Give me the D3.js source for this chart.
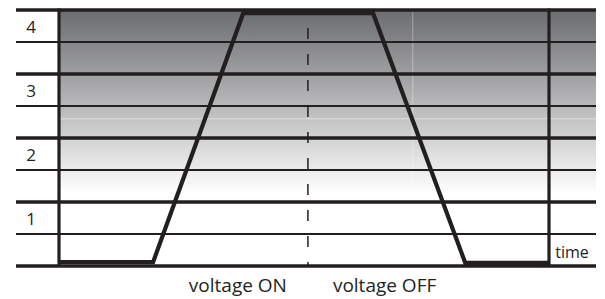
<!DOCTYPE html>
<html>
<head>
<meta charset="utf-8">
<script src="https://cdn.jsdelivr.net/npm/d3@7"></script>
<style>
  body { margin: 0; background: #fff; }
  text { fill: #231f20; }
</style>
</head>
<body>
<script>
// Chart values
var levelTicks = [1, 2, 3, 4];
var levelLabels = ["1", "2", "3", "4"];
var halfLevels = [0.5, 1.5, 2.5, 3.5];
var timePoints = [0, 1.92, 3.76, 6.41, 8.29, 10];
var levelValues = [0.06, 0.06, 3.95, 3.95, 0.05, 0.05];
var switchTime = [5.08];
var switchLabels = ["voltage ON", "voltage OFF"];
var axisLabel = "time";

var width = 605, height = 299;
var ink = "#231f20";

var svg = d3.select("body").append("svg")
  .attr("width", width)
  .attr("height", height);

// scales: time runs between the two vertical bars, level 0..4 between bottom and top rule
var x = d3.scaleLinear().domain([0, 10]).range([59, 549]);
var y = d3.scaleLinear().domain([0, 4]).range([266, 10]);
var lineLeft = 16, lineRight = 596;

// gradient background
var grad = svg.append("defs").append("linearGradient")
  .attr("id", "bg")
  .attr("x1", 0).attr("y1", 0).attr("x2", 0).attr("y2", 1);
grad.append("stop").attr("offset", 0).attr("stop-color", "#6b6c6f");
grad.append("stop").attr("offset", 0.72).attr("stop-color", "#ffffff");

svg.append("rect")
  .attr("x", x(0))
  .attr("y", y(4))
  .attr("width", lineRight - x(0))
  .attr("height", y(0) - y(4))
  .attr("fill", "url(#bg)");

// faint light seams in the shading
svg.append("line")
  .attr("x1", x(0)).attr("x2", lineRight)
  .attr("y1", y(2.3)).attr("y2", y(2.3))
  .attr("stroke", "#fff").attr("stroke-opacity", 0.45).attr("stroke-width", 1);
svg.append("line")
  .attr("x1", x(7.22)).attr("x2", x(7.22))
  .attr("y1", y(4)).attr("y2", y(0))
  .attr("stroke", "#fff").attr("stroke-opacity", 0.35).attr("stroke-width", 1);

// thin half-level rules
svg.selectAll("line.half")
  .data(halfLevels)
  .enter().append("line")
  .attr("class", "half")
  .attr("x1", lineLeft).attr("x2", lineRight)
  .attr("y1", function(d) { return y(d); })
  .attr("y2", function(d) { return y(d); })
  .attr("stroke", ink).attr("stroke-width", 1.8);

// thick level rules (0 included as the base line)
svg.selectAll("line.level")
  .data([0].concat(levelTicks))
  .enter().append("line")
  .attr("class", "level")
  .attr("x1", lineLeft).attr("x2", lineRight)
  .attr("y1", function(d) { return y(d); })
  .attr("y2", function(d) { return y(d); })
  .attr("stroke", ink).attr("stroke-width", 3.6);

// vertical bars
svg.selectAll("line.bar")
  .data([0, 10])
  .enter().append("line")
  .attr("class", "bar")
  .attr("x1", function(d) { return x(d); })
  .attr("x2", function(d) { return x(d); })
  .attr("y1", y(4) - 1.5).attr("y2", y(0))
  .attr("stroke", ink).attr("stroke-width", 3.2);

// dashed switch line
svg.append("line")
  .attr("x1", x(switchTime[0])).attr("x2", x(switchTime[0]))
  .attr("y1", 28).attr("y2", y(0))
  .attr("stroke", ink).attr("stroke-width", 1.5)
  .attr("stroke-dasharray", "11,15");

// level trace
var trace = d3.line()
  .x(function(d) { return x(d[0]); })
  .y(function(d) { return y(d[1]); });

svg.append("path")
  .datum(d3.zip(timePoints, levelValues))
  .attr("d", trace)
  .attr("fill", "none")
  .attr("stroke", ink)
  .attr("stroke-width", 4.2)
  .attr("stroke-linejoin", "miter");

// level labels
svg.selectAll("text.tick")
  .data(levelTicks)
  .enter().append("text")
  .attr("class", "tick")
  .attr("x", 31)
  .attr("y", function(d) { return y(d - 0.25) + 6.5; })
  .attr("text-anchor", "middle")
  .style("font-family", "'Open Sans', sans-serif")
  .style("font-size", "17px")
  .text(function(d, i) { return levelLabels[i]; });

// time label
svg.append("text")
  .attr("x", 572)
  .attr("y", 258)
  .attr("text-anchor", "middle")
  .style("font-family", "'Liberation Sans Narrow', 'Open Sans', sans-serif")
  .style("font-size", "16px")
  .text(axisLabel);

// switch labels
svg.append("text")
  .attr("x", x(switchTime[0]) - 21)
  .attr("y", 292)
  .attr("text-anchor", "end")
  .style("font-family", "'Open Sans', sans-serif")
  .style("font-size", "19px")
  .text(switchLabels[0]);

svg.append("text")
  .attr("x", x(switchTime[0]) + 25)
  .attr("y", 292)
  .attr("text-anchor", "start")
  .style("font-family", "'Open Sans', sans-serif")
  .style("font-size", "19px")
  .text(switchLabels[1]);
</script>
</body>
</html>
